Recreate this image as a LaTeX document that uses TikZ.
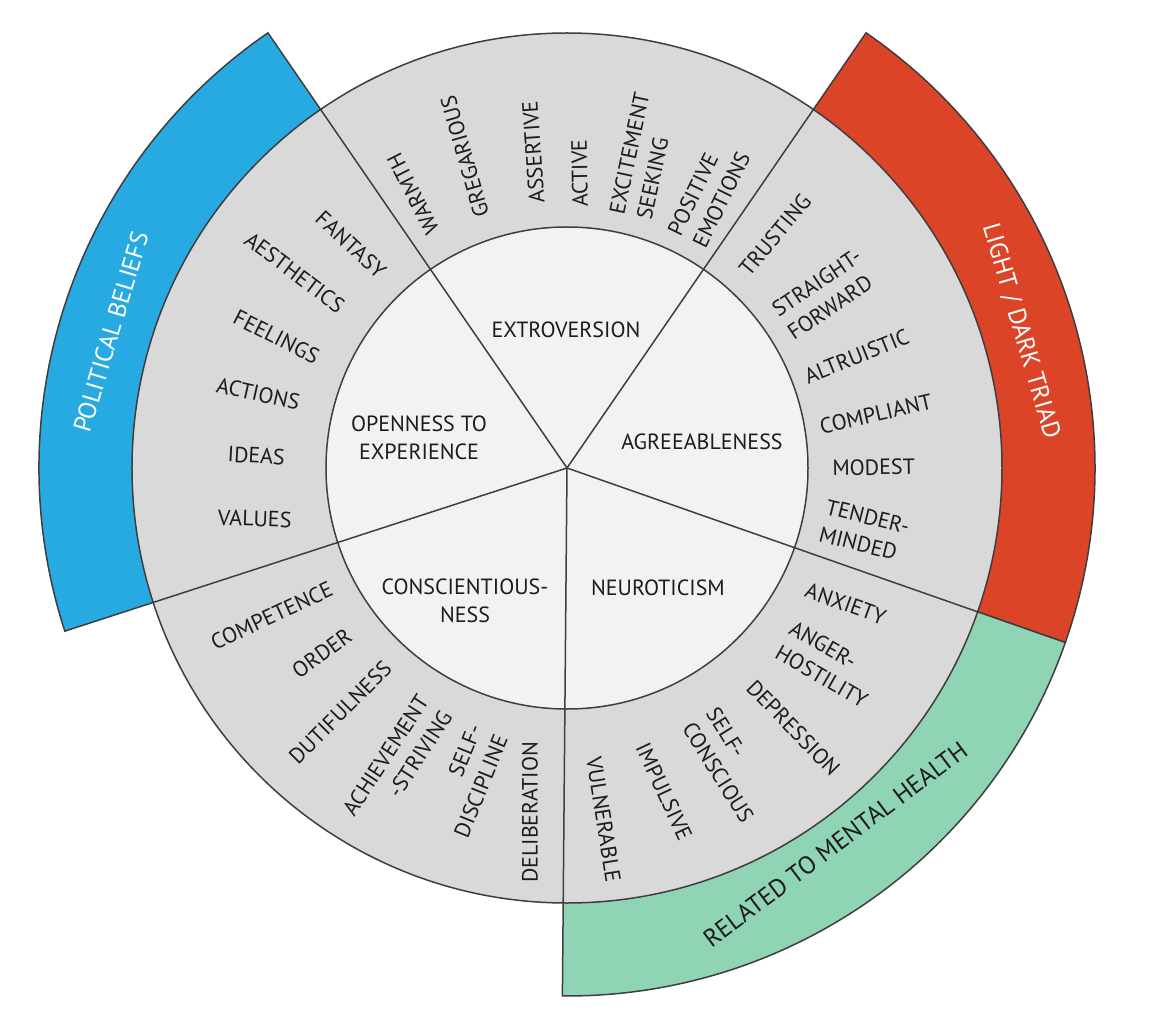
\documentclass[tikz,border=0pt]{standalone}
\usepackage{fontspec}
\setmainfont{PT Sans}

\definecolor{beltblue}{HTML}{27AAE1}
\definecolor{beltred}{HTML}{DC4428}
\definecolor{beltgreen}{HTML}{8FD4B4}
\definecolor{ringgray}{HTML}{D9D9D9}
\definecolor{coregray}{HTML}{F2F2F2}
\definecolor{inkgray}{HTML}{1E1B1C}

\begin{document}
\begin{tikzpicture}[x=0.5pt,y=0.5pt,
    outline/.style={draw=inkgray!85,line width=0.75pt},
    facet/.style={font=\fontsize{11}{14}\selectfont,text=inkgray,inner sep=0pt},
    facetout/.style={facet,anchor=west,align=left},
    facetin/.style={facet,anchor=east,align=right},
    trait/.style={font=\fontsize{11}{14}\selectfont,text=inkgray,align=center},
    beltlbl/.style={font=\fontsize{12.5}{15}\selectfont,inner sep=0pt}]
  \fill[white] (-567,-544) rectangle (605,468);
  \useasboundingbox (-567,-544) rectangle (605,468);
  \coordinate (c) at (0,0);

  % outer belts
  \path[fill=beltblue,outline] (c) -- (124.5:528) arc[start angle=124.5,end angle=198,radius=528] -- cycle;
  \path[fill=beltred,outline] (c) -- (55.5:528) arc[start angle=55.5,end angle=-19.3,radius=528] -- cycle;
  \path[fill=beltgreen,outline] (c) -- (-19.3:528) arc[start angle=-19.3,end angle=-90.5,radius=528] -- cycle;

  % rings and spokes
  \path[fill=ringgray,outline] (c) circle[radius=435];
  \path[fill=coregray,outline] (c) circle[radius=241];
  \foreach \a in {124.5,55.5,-19.3,-90.5,198}
    \draw[outline] (c) -- (\a:435);

  % big five
  \node[trait] (extro) at (-1,138) {EXTROVERSION};
  \node[trait] (open) at (-148,30) {OPENNESS TO\\EXPERIENCE};
  \node[trait] (agree) at (135,26) {AGREEABLENESS};
  \node[trait] (consc) at (-102,-133) {CONSCIENTIOUS-\\NESS};
  \node[trait] (neuro) at (91,-120) {NEUROTICISM};

  % facets reading outwards
  \foreach \a/\r/\t/\n/\s in {
      119.7/270/117/warmth/WARMTH,
      108.7/265/106/gregarious/GREGARIOUS,
      96.5/266/94/assertive/ASSERTIVE,
      87.1/261/91/active/ACTIVE,
      75.9/259/78/excitement/{EXCITEMENT\\SEEKING},
      62.4/257/64/positive/{POSITIVE\\EMOTIONS},
      47.9/263/50/trusting/TRUSTING,
      34/259/34/straight/{STRAIGHT-\\FORWARD},
      20.9/255/22/altruistic/ALTRUISTIC,
      9.2/256/13/compliant/COMPLIANT,
      0/265/1/modest/MODEST,
      -11.5/261/-14/tender/{TENDER-\\MINDED},
      -26.9/268/-20/anxiety/ANXIETY,
      -38.1/276/-30/anger/{ANGER-\\HOSTILITY},
      -49.6/283/-46/depression/DEPRESSION,
      -61.9/282/-58/selfcon/{SELF-\\CONSCIOUS},
      -74.8/286/-65/impulsive/IMPULSIVE,
      -84.7/290/-81/vulnerable/VULNERABLE}
    \node[facetout,rotate=\t] (\n) at (\a:\r) {\s};

  % facets reading inwards
  \foreach \a/\r/\t/\n/\s in {
      133.6/267/-43/fantasy/FANTASY,
      144.6/276/-37/aesthetics/AESTHETICS,
      156.2/272/-27/feelings/FEELINGS,
      166.3/275/-12.5/actions/ACTIONS,
      177.8/282/-3/ideas/IDEAS,
      190.7/280/-2/values/VALUES,
      207/264/25/competence/COMPETENCE,
      217.2/273/36/order/ORDER,
      227.7/266/45/dutiful/DUTIFULNESS,
      240.9/271/57/achieve/{ACHIEVEMENT\\-STRIVING},
      253.3/274/68/selfdis/{SELF-\\DISCIPLINE},
      262.3/276/90/deliberation/DELIBERATION}
    \node[facetin,rotate=\t] (\n) at (\a:\r) {\s};

  % belt labels
  \node[beltlbl,text=white,rotate=73.4] (political) at (163.4:476) {POLITICAL BELIEFS};
  \node[beltlbl,text=white,rotate=-73.7] (triad) at (16.8:474) {LIGHT / DARK TRIAD};
  \node[beltlbl,text=inkgray,rotate=37] (mental) at (-54.5:462) {RELATED TO MENTAL HEALTH};
\end{tikzpicture}
\end{document}
